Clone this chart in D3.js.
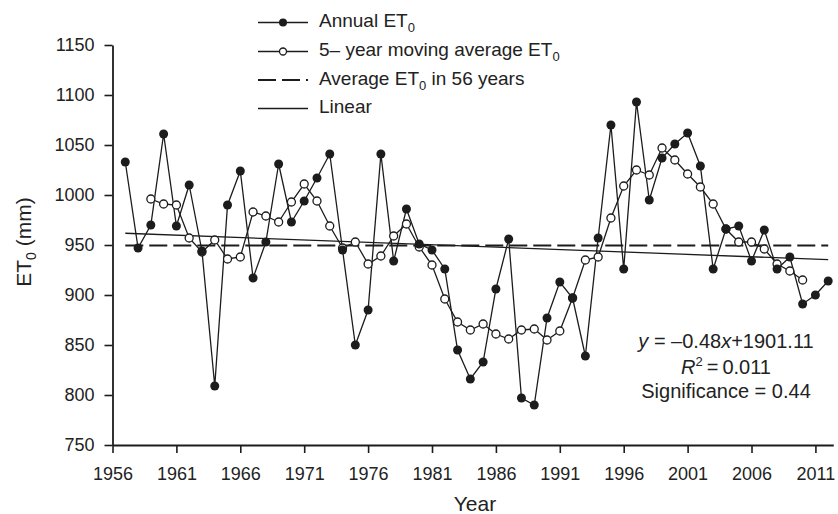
<!DOCTYPE html>
<html>
<head>
<meta charset="utf-8">
<script src="https://cdn.jsdelivr.net/npm/d3@7"></script>
<style>
  html, body { margin: 0; padding: 0; background: #fff; }
  svg { display: block; font-family: "Liberation Sans", Arial, sans-serif; }
</style>
</head>
<body>
<svg id="chart" width="838" height="514"></svg>
<script>
// ---- data ----
const years = d3.range(1957, 2013);
const annualET0 = [
  1033, 947, 970, 1061, 969, 1010, 944, 809, 990, 1024,
  917, 953, 1031, 973, 994, 1017, 1041, 945, 850, 885,
  1041, 934, 986, 951, 945, 926, 845, 816, 833, 906,
  956, 797, 790, 877, 913, 897, 839, 957, 1070, 926,
  1093, 995, 1037, 1051, 1062, 1029, 926, 966, 969, 934,
  965, 926, 938, 891, 900, 914
];
const maYears = d3.range(1959, 2011);
const movingAvgET0 = [
  996, 991, 990, 957, 943, 955, 936, 938, 983, 979,
  973, 993, 1011, 994, 969, 947, 953, 931, 939, 959,
  971, 948, 930, 896, 873, 865, 871, 861, 856, 865,
  866, 855, 864, 897, 935, 938, 977, 1009, 1025, 1020,
  1047, 1035, 1021, 1008, 991, 966, 953, 953, 946, 931,
  924, 915
];
const averageET0 = 949.4;
const trendSlope = -0.48;
const trendIntercept = 1901.11;
const xTicks = [1956, 1961, 1966, 1971, 1976, 1981, 1986, 1991, 1996, 2001, 2006, 2011];
const yTicks = [750, 800, 850, 900, 950, 1000, 1050, 1100, 1150];

// ---- layout ----
const svg = d3.select("#chart");
const ink = "#1c1c1c";
const x = d3.scaleLinear().domain([1956, 2012.4]).range([112.5, 833.3]);
const y = d3.scaleLinear().domain([750, 1150]).range([445, 45]);

// axes
const gx = svg.append("g").attr("transform", `translate(0,${y(750)})`)
  .call(d3.axisBottom(x).tickValues(xTicks).tickFormat(d3.format("d")).tickSize(8).tickSizeOuter(0).tickPadding(14));
const gy = svg.append("g").attr("transform", `translate(${x(1956)},0)`)
  .call(d3.axisLeft(y).tickValues(yTicks).tickFormat(d3.format("d")).tickSize(8).tickSizeOuter(0).tickPadding(10));
[gx, gy].forEach(g => {
  g.select(".domain").attr("stroke", ink).attr("stroke-width", 1.8);
  g.selectAll(".tick line").attr("stroke", ink).attr("stroke-width", 1.6);
  g.selectAll(".tick text").attr("fill", "#222").attr("font-size", 18)
    .attr("font-family", "'Liberation Sans', Arial, sans-serif");
});

// average line (dashed)
svg.append("line")
  .attr("x1", x(1957)).attr("x2", x(2012))
  .attr("y1", y(averageET0)).attr("y2", y(averageET0))
  .attr("stroke", ink).attr("stroke-width", 2).attr("stroke-dasharray", "18,6");

// linear trend
svg.append("line")
  .attr("x1", x(1957)).attr("x2", x(2012))
  .attr("y1", y(trendSlope * 1957 + trendIntercept))
  .attr("y2", y(trendSlope * 2012 + trendIntercept))
  .attr("stroke", ink).attr("stroke-width", 1.3);

const line = d3.line().x(d => x(d[0])).y(d => y(d[1]));
const maData = maYears.map((yr, i) => [yr, movingAvgET0[i]]);
const annData = years.map((yr, i) => [yr, annualET0[i]]);

// moving average
svg.append("path").datum(maData).attr("d", line)
  .attr("fill", "none").attr("stroke", ink).attr("stroke-width", 1.3);
// annual
svg.append("path").datum(annData).attr("d", line)
  .attr("fill", "none").attr("stroke", ink).attr("stroke-width", 1.3);

svg.append("g").selectAll("circle").data(maData).join("circle")
  .attr("cx", d => x(d[0])).attr("cy", d => y(d[1])).attr("r", 4)
  .attr("fill", "#fff").attr("stroke", ink).attr("stroke-width", 1.3);
svg.append("g").selectAll("circle").data(annData).join("circle")
  .attr("cx", d => x(d[0])).attr("cy", d => y(d[1])).attr("r", 4.5)
  .attr("fill", ink);

// axis titles
svg.append("text").attr("x", 475).attr("y", 511).attr("text-anchor", "middle")
  .attr("font-size", 21).attr("fill", "#222").text("Year");
const yl = svg.append("text").attr("transform", "translate(31,242) rotate(-90)")
  .attr("text-anchor", "middle").attr("font-size", 21).attr("fill", "#222");
yl.append("tspan").text("ET");
yl.append("tspan").attr("font-size", 14).attr("dy", 5).text("0");
yl.append("tspan").attr("dy", -5).text(" (mm)");

// legend
const legendItems = [
  { label: ["Annual ET", "0", ""], type: "filled", ly: 22.5 },
  { label: ["5\u2013 year moving average ET", "0", ""], type: "open", ly: 51.5 },
  { label: ["Average ET", "0", " in 56 years"], type: "dash", ly: 80 },
  { label: ["Linear", "", ""], type: "solid", ly: 108.5 }
];
const lg = svg.append("g");
legendItems.forEach(it => {
  const g = lg.append("g");
  g.append("line").attr("x1", 258).attr("x2", 308).attr("y1", it.ly).attr("y2", it.ly)
    .attr("stroke", ink)
    .attr("stroke-width", it.type === "dash" ? 2 : 1.3)
    .attr("stroke-dasharray", it.type === "dash" ? "18,6" : null);
  if (it.type === "filled") g.append("circle").attr("cx", 283).attr("cy", it.ly).attr("r", 4).attr("fill", ink);
  if (it.type === "open") g.append("circle").attr("cx", 283).attr("cy", it.ly).attr("r", 3.5)
    .attr("fill", "#fff").attr("stroke", ink).attr("stroke-width", 1.3);
  const t = g.append("text").attr("x", 319).attr("y", it.ly + 4.5).attr("font-size", 19).attr("fill", "#222");
  t.append("tspan").text(it.label[0]);
  if (it.label[1]) {
    t.append("tspan").attr("font-size", 13).attr("dy", 5).text(it.label[1]);
    if (it.label[2]) t.append("tspan").attr("dy", -5).text(it.label[2]);
  }
});

// annotation
const ann = svg.append("g").attr("font-size", 20).attr("fill", "#222").attr("text-anchor", "middle");
const t1 = ann.append("text").attr("x", 726).attr("y", 348);
t1.append("tspan").attr("font-style", "italic").text("y");
t1.append("tspan").text(" = \u2013" + Math.abs(trendSlope).toFixed(2));
t1.append("tspan").attr("font-style", "italic").text("x");
t1.append("tspan").text("+" + trendIntercept.toFixed(2));
const t2 = ann.append("text").attr("x", 726).attr("y", 374);
t2.append("tspan").attr("font-style", "italic").text("R");
t2.append("tspan").attr("font-size", 13).attr("dy", -8).text("2");
t2.append("tspan").attr("dy", 8).text("\u2009=\u20090.011");
ann.append("text").attr("x", 726).attr("y", 398).text("Significance = 0.44");
</script>
</body>
</html>
